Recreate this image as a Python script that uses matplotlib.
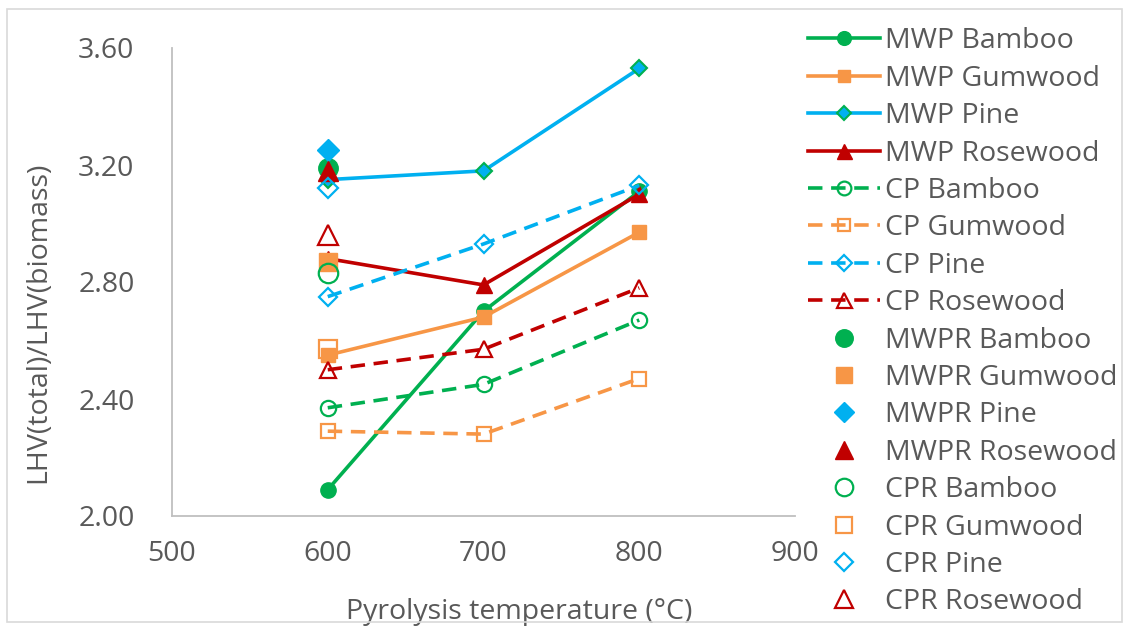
import matplotlib.pyplot as plt
from matplotlib.patches import Rectangle

plt.rcParams['font.family'] = ['Open Sans', 'DejaVu Sans']

temps = [600, 700, 800]

mwp_bamboo = [2.09, 2.70, 3.11]
mwp_gumwood = [2.55, 2.68, 2.97]
mwp_pine = [3.15, 3.18, 3.53]
mwp_rosewood = [2.88, 2.79, 3.10]

cp_bamboo = [2.37, 2.45, 2.67]
cp_gumwood = [2.29, 2.28, 2.47]
cp_pine = [2.75, 2.93, 3.13]
cp_rosewood = [2.50, 2.57, 2.78]

mwpr_temp = 600
mwpr_bamboo = 3.19
mwpr_gumwood = 2.87
mwpr_pine = 3.25
mwpr_rosewood = 3.18

cpr_temp = 600
cpr_bamboo = 2.83
cpr_gumwood = 2.57
cpr_pine = 3.12
cpr_rosewood = 2.96

green = '#00B050'
orange = '#F79646'
blue = '#00B0F0'
red = '#C00000'
grey = '#595959'
fs = 20.5

fig = plt.figure(figsize=(11.29, 6.3), dpi=100)
fig.patches.append(Rectangle((7 / 1129, 1 - 622 / 630), 1115 / 1129, 613 / 630,
                             transform=fig.transFigure, fill=False,
                             edgecolor='#D9D9D9', lw=1.2))
ax = fig.add_axes([172 / 1129, 1 - 516 / 630, (795 - 172) / 1129, (516 - 48) / 630])

lw = 2.6
ms = 11
ax.plot(temps, mwp_bamboo, color=green, lw=lw, marker='o', ms=ms, label='MWP Bamboo')
ax.plot(temps, mwp_gumwood, color=orange, lw=lw, marker='s', ms=ms - 1, label='MWP Gumwood')
ax.plot(temps, mwp_pine, color=blue, lw=lw, marker='D', ms=ms - 3, mec=green, mew=1.5,
        label='MWP Pine')
ax.plot(temps, mwp_rosewood, color=red, lw=lw, marker='^', ms=ms + 1, label='MWP Rosewood')

dash = (4.0, 2.4)
for vals, c, m, s, lab in [(cp_bamboo, green, 'o', 11, 'CP Bamboo'),
                           (cp_gumwood, orange, 's', 10, 'CP Gumwood'),
                           (cp_pine, blue, 'D', 9, 'CP Pine'),
                           (cp_rosewood, red, '^', 12, 'CP Rosewood')]:
    ax.plot(temps, vals, color=c, lw=lw, ls='--', dashes=dash, marker=m, ms=s,
            mfc='none', mew=1.6, label=lab)

ax.plot([mwpr_temp], [mwpr_bamboo], ls='none', marker='o', color=green, ms=14, label='MWPR Bamboo')
ax.plot([mwpr_temp], [mwpr_gumwood], ls='none', marker='s', color=orange, ms=13, label='MWPR Gumwood')
ax.plot([mwpr_temp], [mwpr_pine], ls='none', marker='D', color=blue, ms=11, label='MWPR Pine')
ax.plot([mwpr_temp], [mwpr_rosewood], ls='none', marker='^', color=red, ms=15, label='MWPR Rosewood')

ax.plot([cpr_temp], [cpr_bamboo], ls='none', marker='o', mfc='none', mec=green, mew=1.6, ms=14,
        label='CPR Bamboo')
ax.plot([cpr_temp], [cpr_gumwood], ls='none', marker='s', mfc='none', mec=orange, mew=1.6, ms=13,
        label='CPR Gumwood')
ax.plot([cpr_temp], [cpr_pine], ls='none', marker='D', mfc='none', mec=blue, mew=1.6, ms=10,
        label='CPR Pine')
ax.plot([cpr_temp], [cpr_rosewood], ls='none', marker='^', mfc='none', mec=red, mew=1.6, ms=15,
        label='CPR Rosewood')

ax.set_xlim(500, 900)
ax.set_ylim(2.0, 3.6)
ax.set_xticks([500, 600, 700, 800, 900])
ax.set_yticks([2.0, 2.4, 2.8, 3.2, 3.6])
ax.set_yticklabels(['2.00', '2.40', '2.80', '3.20', '3.60'])
ax.tick_params(length=0, labelsize=fs, colors=grey)
ax.tick_params(axis='y', pad=27)
ax.tick_params(axis='x', pad=17)
for sp in ['top', 'right']:
    ax.spines[sp].set_visible(False)
for sp in ['left', 'bottom']:
    ax.spines[sp].set_color('#BFBFBF')
    ax.spines[sp].set_linewidth(1.3)

ax.set_xlabel('Pyrolysis temperature (°C)', fontsize=fs, color=grey, va='center')
ax.set_ylabel('LHV(total)/LHV(biomass)', fontsize=fs, color=grey, va='center')
ax.xaxis.set_label_coords(0.557, -(612 - 516) / 468)
ax.yaxis.set_label_coords(-(172 - 38) / 623, (516 - 322) / 468)

handles, labels = ax.get_legend_handles_labels()
leg = fig.legend(handles, labels, loc='upper left', bbox_to_anchor=(797 / 1129, 1 - 16 / 630),
                 frameon=False, fontsize=fs, labelcolor=grey, handlelength=2.5,
                 handletextpad=0.18, labelspacing=0.33, borderaxespad=0, markerscale=0.9)

fig.savefig('out.png', dpi=100)
